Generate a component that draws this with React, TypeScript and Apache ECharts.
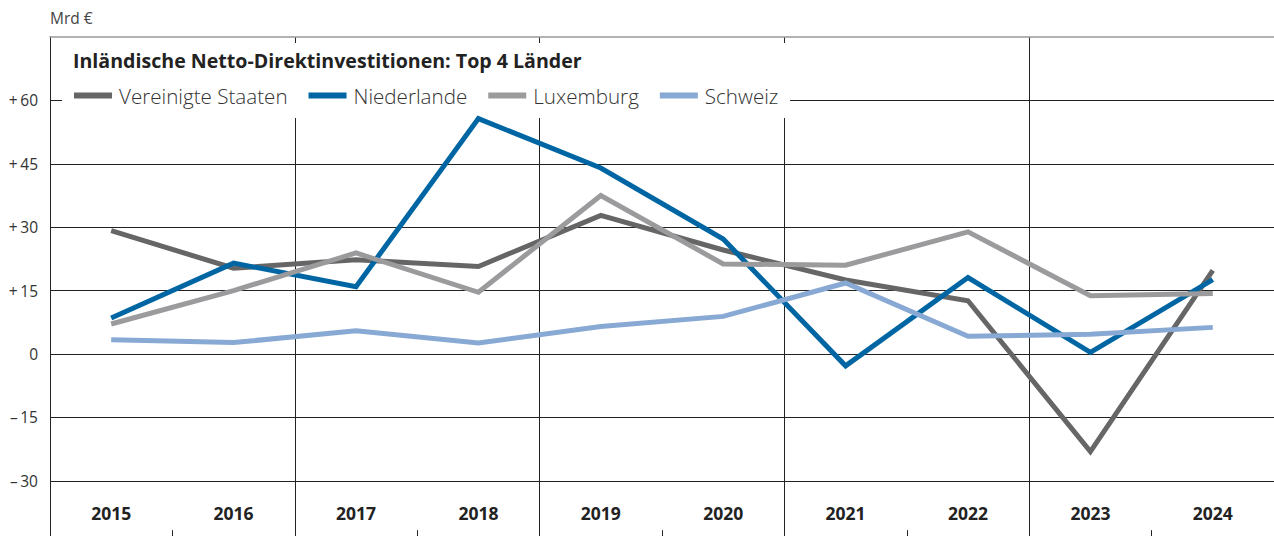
import React, { useEffect, useRef } from "react";
import * as echarts from "echarts";

const years = ["2015", "2016", "2017", "2018", "2019", "2020", "2021", "2022", "2023", "2024"];
const vereinigteStaaten = [29.2, 20.3, 22.3, 20.7, 32.8, 24.6, 17.5, 12.6, -23.1, 19.8];
const niederlande = [8.5, 21.5, 15.9, 55.7, 44.0, 27.2, -2.8, 18.1, 0.4, 17.6];
const luxemburg = [7.1, 15.0, 23.9, 14.6, 37.5, 21.3, 21.0, 28.9, 13.8, 14.3];
const schweiz = [3.4, 2.7, 5.5, 2.6, 6.5, 8.9, 16.8, 4.2, 4.7, 6.3];

const seriesNames = ["Vereinigte Staaten", "Niederlande", "Luxemburg", "Schweiz"];
const seriesColors = ["#666666", "#0066a3", "#9b9b9d", "#88a9d3"];
const seriesData = [vereinigteStaaten, niederlande, luxemburg, schweiz];

const yMin = -45;
const yMax = 75;
const yStep = 15;
const hiddenTicks = [-45, 75];

const FONT = "'Open Sans', 'Noto Sans', sans-serif";

export default function App() {
  const ref = useRef<HTMLDivElement>(null);
  useEffect(() => {
    if (!ref.current) return;
    const chart = echarts.init(ref.current, undefined, { renderer: "svg" });
    const option: any = {
      animation: false,
      backgroundColor: "#ffffff",
      textStyle: { fontFamily: FONT },
      title: {
        text: "Inländische Netto-Direktinvestitionen: Top 4 Länder",
        left: 68,
        top: 45,
        textStyle: { fontFamily: FONT, fontSize: 19.6, fontWeight: "bold", color: "#222222" },
      },
      legend: {
        left: 69,
        top: 80,
        itemWidth: 38,
        itemHeight: 6,
        itemGap: 21,
        icon: "rect",
        data: seriesNames,
        textStyle: { fontFamily: FONT, fontSize: 20.6, fontWeight: 300, color: "#333333", padding: [0, 0, 0, 2] },
      },
      graphic: [
        {
          type: "rect",
          z: 1,
          shape: { x: 62, y: 43, width: 728, height: 75 },
          style: { fill: "#ffffff" },
        },
      ],
      grid: { left: 50, right: 0, top: 37, bottom: 0.8, containLabel: false },
      xAxis: [
        {
          type: "category",
          data: years,
          boundaryGap: true,
          axisLine: { show: false, onZero: false },
          axisTick: { show: true, inside: true, length: 14, interval: 0, lineStyle: { color: "#222222", width: 1 } },
          axisLabel: {
            inside: true,
            margin: 22,
            interval: 0,
            fontFamily: FONT,
            fontSize: 17.5,
            fontWeight: "bold",
            color: "#222222",
          },
          splitLine: {
            show: true,
            interval: (i: number) => i > 0 && i % 2 === 0,
            lineStyle: { color: "#222222", width: 1 },
          },
        },
        {
          type: "category",
          data: years,
          position: "top",
          boundaryGap: true,
          axisLine: { show: true, onZero: false, lineStyle: { color: "#999999", width: 1.6 } },
          axisTick: { show: false },
          axisLabel: { show: false },
          splitLine: { show: false },
        },
      ],
      yAxis: {
        type: "value",
        min: yMin,
        max: yMax,
        interval: yStep,
        name: "Mrd €",
        nameLocation: "end",
        nameGap: 11,
        nameTextStyle: { align: "left", verticalAlign: "bottom", fontFamily: FONT, fontSize: 15.5, color: "#444444" },
        axisLine: { show: true, lineStyle: { color: "#222222", width: 1 } },
        axisTick: { show: false },
        axisLabel: {
          margin: 12,
          fontFamily: FONT,
          fontSize: 15.5,
          color: "#333333",
          formatter: (v: number) => {
            if (hiddenTicks.includes(v)) return "";
            if (v > 0) return "+\u2009" + v;
            if (v < 0) return "\u2013\u2009" + Math.abs(v);
            return "0";
          },
        },
        splitLine: {
          show: true,
          lineStyle: {
            color: ["#222222", "#222222", "#222222", "#222222", "#222222", "#222222", "#222222", "#222222", "rgba(0,0,0,0)"],
            width: 1,
          },
        },
      },
      series: seriesNames.map((name, i) => ({
        name,
        type: "line",
        data: seriesData[i],
        xAxisIndex: 0,
        symbol: "none",
        z: 3,
        lineStyle: { color: seriesColors[i], width: 5, cap: "butt", join: "miter" },
        itemStyle: { color: seriesColors[i] },
      })),
    };
    chart.setOption(option);
    return () => chart.dispose();
  }, []);
  return (
    <div style={{ position: "fixed", left: 0, top: 0, width: 1274, height: 536, overflow: "hidden" }}>
      <div ref={ref} style={{ width: 1274, height: 545 }} />
    </div>
  );
}
